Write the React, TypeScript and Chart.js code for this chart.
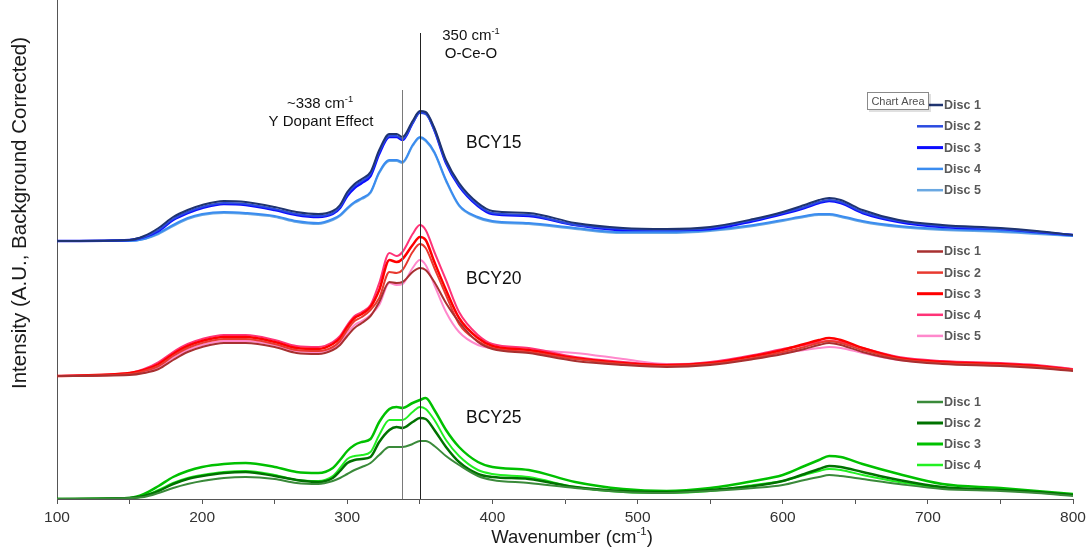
import React, { useEffect, useRef } from 'react';
import { Chart, registerables } from 'chart.js';

Chart.register(...registerables);

// Wavenumber grid (cm-1)
const wavenumbers = [100, 150, 160, 170, 180, 190, 200, 215, 230, 250, 265, 280, 290, 295, 300, 305, 310, 316, 322, 329, 334, 338, 345, 350, 354, 360, 368, 377, 390, 400, 425, 457, 490, 520, 550, 580, 600, 615, 625, 632, 640, 655, 680, 710, 750, 775, 800];

// BCY15 (offset spectra, arbitrary units)
const bcy15Disc1 = [258, 259, 263, 271, 282, 289, 294, 298, 297, 292, 287, 285, 288, 294, 307, 315, 320, 327, 349, 365, 365, 362, 378, 388, 387, 371, 339, 316, 296, 288, 286, 276, 271, 270, 272, 280, 287, 294, 299, 301, 299, 289, 279, 274, 271, 268, 264];
const bcy15Disc2 = [258, 259, 262, 269, 280, 287, 292, 296, 295, 290, 285, 283, 286, 292, 305, 313, 318, 325, 347, 363, 363, 360, 376, 386, 385, 369, 337, 314, 294, 286, 284, 274, 270, 269, 271, 279, 286, 292, 297, 299, 297, 287, 278, 273, 270, 267, 264];
const bcy15Disc3 = [258, 259, 262, 268, 279, 286, 291, 295, 294, 289, 284, 282, 285, 291, 303, 311, 316, 323, 345, 362, 362, 359, 376, 387, 386, 369, 336, 313, 293, 285, 283, 274, 269, 269, 270, 278, 285, 291, 296, 298, 296, 286, 277, 272, 270, 267, 264];
const bcy15Disc4 = [258, 258, 260, 266, 274, 281, 285, 287, 286, 283, 278, 276, 280, 284, 291, 297, 301, 307, 327, 339, 339, 337, 354, 362, 359, 347, 319, 294, 282, 278, 276, 271, 267, 267, 269, 274, 279, 283, 285, 285, 283, 278, 273, 270, 268, 266, 263];
const bcy15Disc5 = [258, 258, 260, 265, 273, 280, 284, 286, 285, 282, 277, 275, 279, 283, 290, 296, 300, 306, 326, 338, 338, 336, 353, 361, 358, 346, 318, 293, 281, 277, 275, 270, 266, 266, 268, 273, 278, 282, 284, 284, 282, 277, 272, 269, 267, 265, 263];

// BCY20
const bcy20Disc1 = [123, 124, 126, 130, 139, 147, 152, 156, 156, 152, 146, 145, 149, 154, 163, 171, 176, 183, 197, 217, 216, 217, 227, 231, 229, 217, 196, 177, 157, 150, 146, 138, 134, 132, 134, 140, 145, 150, 154, 156, 154, 147, 139, 135, 133, 131, 128];
const bcy20Disc2 = [123, 125, 128, 133, 143, 151, 156, 160, 160, 155, 149, 148, 152, 158, 169, 178, 182, 189, 201, 227, 226, 229, 247, 255, 251, 231, 204, 175, 158, 151, 147, 140, 135, 133, 135, 141, 147, 152, 156, 158, 156, 149, 140, 136, 134, 132, 129];
const bcy20Disc3 = [123, 126, 129, 135, 145, 153, 158, 162, 162, 157, 151, 150, 155, 161, 172, 181, 185, 192, 209, 239, 237, 240, 254, 262, 259, 237, 209, 181, 161, 153, 149, 141, 136, 134, 136, 143, 149, 155, 159, 161, 159, 151, 141, 137, 135, 133, 129];
const bcy20Disc4 = [123, 126, 130, 137, 147, 155, 160, 164, 164, 159, 153, 152, 157, 163, 174, 183, 187, 194, 216, 246, 243, 247, 265, 274, 269, 247, 219, 187, 164, 155, 151, 142, 137, 134, 137, 144, 150, 154, 157, 158, 157, 151, 142, 138, 136, 134, 130];
const bcy20Disc5 = [123, 125, 127, 132, 141, 149, 154, 158, 158, 154, 148, 147, 151, 156, 166, 174, 178, 184, 194, 216, 214, 215, 231, 239, 234, 214, 187, 167, 154, 151, 149, 146, 140, 135, 136, 141, 146, 149, 151, 152, 151, 146, 139, 136, 134, 132, 129];

// BCY25
const bcy25Disc1 = [0, 1, 2, 6, 11, 15, 18, 21, 22, 20, 16, 15, 18, 21, 25, 29, 32, 36, 44, 52, 52, 52, 55, 58, 58, 53, 43, 34, 23, 19, 16, 11, 7, 6, 8, 11, 14, 19, 22, 24, 23, 20, 15, 10, 8, 6, 3];
const bcy25Disc2 = [0, 1, 3, 8, 15, 20, 23, 26, 27, 23, 19, 17, 21, 28, 36, 39, 40, 42, 57, 69, 72, 71, 77, 81, 80, 69, 52, 37, 25, 22, 20, 12, 8, 7, 9, 13, 18, 25, 30, 33, 32, 27, 19, 12, 9, 7, 4];
const bcy25Disc3 = [0, 1, 5, 13, 22, 28, 32, 35, 36, 32, 27, 26, 31, 39, 48, 54, 57, 60, 77, 90, 92, 91, 96, 99, 101, 89, 69, 52, 37, 32, 29, 17, 10, 8, 11, 18, 24, 33, 39, 43, 42, 35, 25, 15, 11, 8, 5];
const bcy25Disc4 = [0, 1, 3, 9, 16, 21, 24, 27, 28, 24, 19, 18, 23, 31, 40, 43, 44, 47, 64, 79, 79, 79, 87, 92, 90, 79, 59, 43, 29, 25, 22, 12, 7, 6, 8, 14, 18, 24, 28, 30, 29, 24, 17, 11, 9, 7, 4];

const xTickLabels = [100, 200, 300, 400, 500, 600, 700, 800];
const markerLines = [338, 350];

type Series = { label: string; data: number[]; color: string; width: number; group: string };

const series: Series[] = [
  { label: 'Disc 1', data: bcy15Disc1, color: '#1f3470', width: 2, group: 'BCY15' },
  { label: 'Disc 2', data: bcy15Disc2, color: '#2a4ae0', width: 2, group: 'BCY15' },
  { label: 'Disc 3', data: bcy15Disc3, color: '#0c0cff', width: 2.5, group: 'BCY15' },
  { label: 'Disc 4', data: bcy15Disc4, color: '#3a8cf0', width: 2, group: 'BCY15' },
  { label: 'Disc 5', data: bcy15Disc5, color: '#6aa8e2', width: 2, group: 'BCY15' },
  { label: 'Disc 1', data: bcy20Disc1, color: '#a83030', width: 2, group: 'BCY20' },
  { label: 'Disc 2', data: bcy20Disc2, color: '#e8392f', width: 2, group: 'BCY20' },
  { label: 'Disc 3', data: bcy20Disc3, color: '#ff0000', width: 2.5, group: 'BCY20' },
  { label: 'Disc 4', data: bcy20Disc4, color: '#ff3377', width: 2, group: 'BCY20' },
  { label: 'Disc 5', data: bcy20Disc5, color: '#ff88cc', width: 2, group: 'BCY20' },
  { label: 'Disc 1', data: bcy25Disc1, color: '#3a8a3a', width: 2, group: 'BCY25' },
  { label: 'Disc 2', data: bcy25Disc2, color: '#007200', width: 2.5, group: 'BCY25' },
  { label: 'Disc 3', data: bcy25Disc3, color: '#00c000', width: 2.5, group: 'BCY25' },
  { label: 'Disc 4', data: bcy25Disc4, color: '#22f022', width: 2, group: 'BCY25' },
];

const FONT = '"Liberation Sans", Arial, sans-serif';

function drawRich(ctx: CanvasRenderingContext2D, parts: [string, boolean][], x: number, y: number, size: number, align: 'left' | 'center') {
  const supSize = size * 0.62;
  let total = 0;
  for (const [t, sup] of parts) {
    ctx.font = `${sup ? supSize : size}px ${FONT}`;
    total += ctx.measureText(t).width;
  }
  let cx = align === 'center' ? x - total / 2 : x;
  ctx.textAlign = 'left';
  ctx.textBaseline = 'middle';
  for (const [t, sup] of parts) {
    ctx.font = `${sup ? supSize : size}px ${FONT}`;
    ctx.fillText(t, cx, sup ? y - size * 0.33 : y);
    cx += ctx.measureText(t).width;
  }
}

const legendBlocks: Record<string, { y0: number; step: number }> = {
  BCY15: { y0: 105, step: 21.3 },
  BCY20: { y0: 251.5, step: 21.1 },
  BCY25: { y0: 402, step: 21 },
};

const groupLabels: { text: string; y: number }[] = [
  { text: 'BCY15', y: 143 },
  { text: 'BCY20', y: 279 },
  { text: 'BCY25', y: 418 },
];

const overlayPlugin = {
  id: 'overlay',
  afterDatasetsDraw(chart: any) {
    const { ctx, scales } = chart;
    const xs = scales.x;
    const bottom = chart.chartArea.bottom;
    ctx.save();
    const tops = [90, 33];
    const cols = ['#7a7a7a', '#222222'];
    markerLines.forEach((w, i) => {
      const px = Math.round(xs.getPixelForValue(w)) + 0.5;
      ctx.strokeStyle = cols[i];
      ctx.lineWidth = 1;
      ctx.beginPath();
      ctx.moveTo(px, tops[i]);
      ctx.lineTo(px, bottom);
      ctx.stroke();
    });
    ctx.fillStyle = '#111';
    drawRich(ctx, [['350 cm', false], ['-1', true]], 471, 36, 15, 'center');
    drawRich(ctx, [['O-Ce-O', false]], 471, 54, 15, 'center');
    drawRich(ctx, [['~338 cm', false], ['-1', true]], 320, 104, 15, 'center');
    drawRich(ctx, [['Y Dopant Effect', false]], 321, 122, 15, 'center');
    ctx.font = `17.5px ${FONT}`;
    ctx.textAlign = 'left';
    ctx.textBaseline = 'middle';
    groupLabels.forEach((g) => ctx.fillText(g.text, 466, g.y));
    const counters: Record<string, number> = { BCY15: 0, BCY20: 0, BCY25: 0 };
    chart.data.datasets.forEach((ds: any) => {
      const blk = legendBlocks[ds.group];
      const idx = counters[ds.group]++;
      const y = blk.y0 + idx * blk.step;
      ctx.strokeStyle = ds.borderColor;
      ctx.lineWidth = ds.borderWidth + 0.5;
      ctx.beginPath();
      ctx.moveTo(917, y);
      ctx.lineTo(943, y);
      ctx.stroke();
      ctx.fillStyle = '#595959';
      ctx.font = `bold 12.5px ${FONT}`;
      ctx.textAlign = 'left';
      ctx.textBaseline = 'middle';
      ctx.fillText(ds.label, 944, y + 0.5);
    });
    ctx.fillStyle = '#1a1a1a';
    drawRich(ctx, [['Wavenumber (cm', false], ['-1', true], [')', false]], 572, 538, 18.5, 'center');
    ctx.save();
    ctx.translate(20, 213);
    ctx.rotate(-Math.PI / 2);
    drawRich(ctx, [['Intensity (A.U., Background Corrected)', false]], 0, 0, 20.5, 'center');
    ctx.restore();
    ctx.fillStyle = 'rgba(0,0,0,0.12)';
    ctx.fillRect(869, 94, 62, 18);
    ctx.fillStyle = '#ffffff';
    ctx.fillRect(867, 92, 62, 18);
    ctx.strokeStyle = '#8a8a8a';
    ctx.lineWidth = 1;
    ctx.strokeRect(867.5, 92.5, 61, 17);
    ctx.fillStyle = '#505050';
    ctx.font = `11px ${FONT}`;
    ctx.textAlign = 'center';
    ctx.textBaseline = 'middle';
    ctx.fillText('Chart Area', 898, 101.5);
    ctx.restore();
  },
};

export default function App() {
  const ref = useRef<HTMLCanvasElement>(null);
  useEffect(() => {
    if (!ref.current) return;
    const chart = new Chart(ref.current, {
      type: 'line',
      data: {
        datasets: series.map((s) => ({
          label: s.label,
          group: s.group,
          data: wavenumbers.map((w, i) => ({ x: w, y: s.data[i] })),
          borderColor: s.color,
          borderWidth: s.width,
          pointRadius: 0,
          fill: false,
          cubicInterpolationMode: 'monotone',
        })) as any,
      },
      options: {
        animation: false,
        responsive: false,
        layout: { padding: { left: 0, right: 17, top: 0, bottom: 0 } },
        plugins: { legend: { display: false }, tooltip: { enabled: false } },
        scales: {
          x: {
            type: 'linear',
            min: 100,
            max: 800,
            afterFit: (s: any) => { s.height = 53; },
            grid: { display: true, drawOnChartArea: false, drawTicks: true, tickLength: 5, color: '#555' },
            border: { display: true, color: '#555', width: 1 },
            ticks: {
              stepSize: 50,
              autoSkip: false,
              maxRotation: 0,
              padding: 4,
              color: '#333',
              font: { family: FONT, size: 15.5 },
              callback: (v: any) => (xTickLabels.includes(Number(v)) ? String(v) : ''),
            },
          },
          y: {
            type: 'linear',
            min: 0,
            max: 499,
            afterFit: (s: any) => { s.width = 57; },
            grid: { display: false },
            border: { display: true, color: '#555', width: 1 },
            ticks: { display: false },
          },
        },
      },
      plugins: [overlayPlugin],
    });
    return () => chart.destroy();
  }, []);
  return (
    <div style={{ position: 'absolute', left: 0, top: 0, width: 1090, height: 552, background: '#fff' }}>
      <canvas ref={ref} width={1090} height={552} />
    </div>
  );
}
